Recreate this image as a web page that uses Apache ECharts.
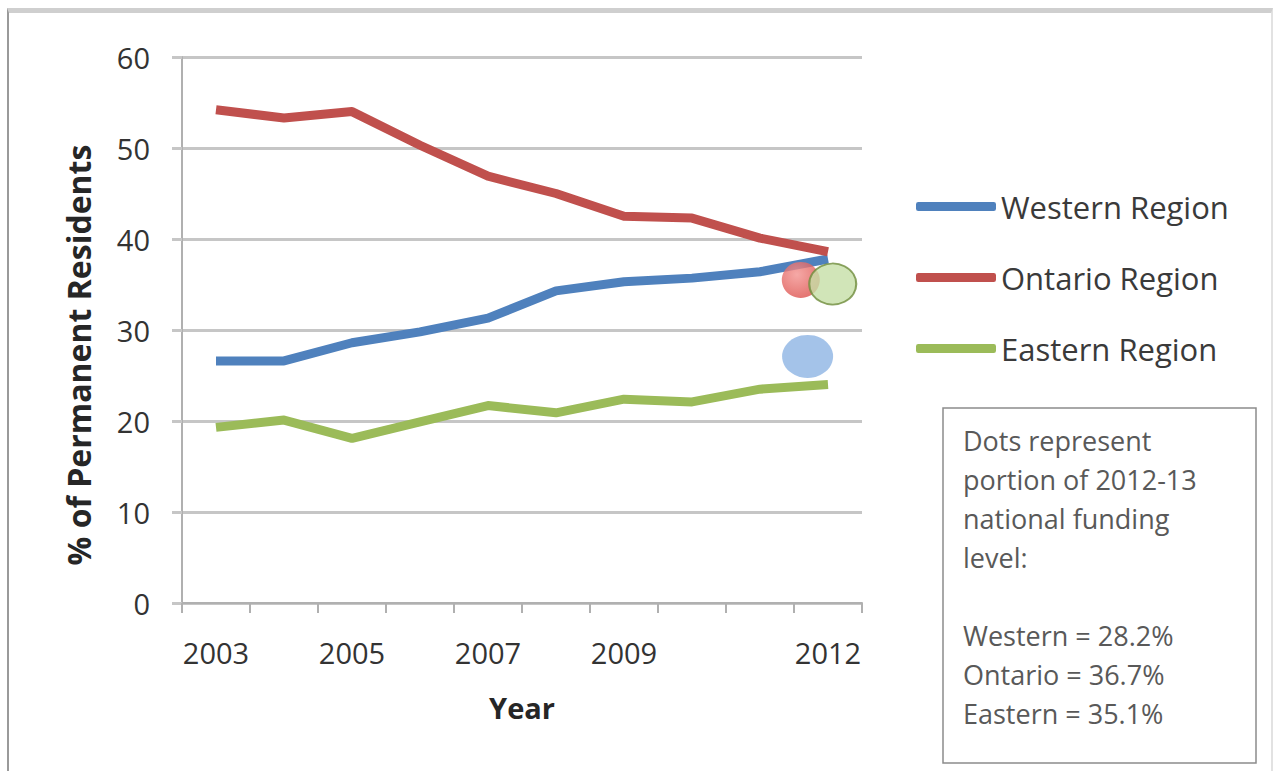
<!DOCTYPE html>
<html lang="en">
  <head>
    <meta charset="UTF-8" />
    <title>Permanent Residents by Region</title>
    <script src="https://cdn.jsdelivr.net/npm/echarts@6.0.0/dist/echarts.min.js"></script>
    <style>
      html,
      body {
        margin: 0;
        padding: 0;
        background: #fff;
      }
      .frame {
        position: absolute;
        left: 7px;
        top: 8px;
        width: 1262px;
        height: 760px;
        border-top: 5px solid #cfcfcf;
        border-left: 2px solid #9a9a9a;
        border-right: 2px solid #e2e2e2;
        border-bottom: 1px solid #e6e6e6;
      }
      #chart {
        position: absolute;
        left: 0;
        top: 0;
        width: 1276px;
        height: 771px;
      }
    </style>
  </head>
  <body>
    <div class="frame"></div>
    <div id="chart"></div>
    <script type="text/javascript">
      // 数据
      const years = ["2003", "2004", "2005", "2006", "2007", "2008", "2009", "2010", "2011", "2012"];
      const shownYears = ["2003", "2005", "2007", "2009", "2012"];
      const western = [26.6, 26.6, 28.6, 29.8, 31.3, 34.3, 35.3, 35.7, 36.4, 37.8];
      const ontario = [54.2, 53.3, 54.0, 50.3, 46.9, 45.0, 42.5, 42.3, 40.1, 38.6];
      const eastern = [19.3, 20.1, 18.1, 19.9, 21.7, 20.9, 22.4, 22.1, 23.5, 24.0];
      // 2012-13 funding dots: [x position on year scale, value]
      const westernDot = [8.7, 27.1];
      const ontarioDot = [8.6, 35.5];
      const easternDot = [9.07, 35.05];
      const yTicks = [0, 10, 20, 30, 40, 50, 60];

      const noteText = [
        "Dots represent",
        "portion of 2012-13",
        "national funding",
        "level:",
        "",
        "Western = 28.2%",
        "Ontario = 36.7%",
        "Eastern = 35.1%",
      ];

      const font = "'Open Sans', 'Noto Sans', sans-serif";
      const gridColor = "#c6c6c6";

      const myChart = echarts.init(document.getElementById("chart"), null, {
        renderer: "svg",
      });

      const lineSeries = (name, data, color) => ({
        name: name,
        type: "line",
        data: data,
        symbol: "none",
        smooth: false,
        z: 2,
        lineStyle: { color: color, width: 9, cap: "butt", join: "round" },
        itemStyle: { color: color },
      });

      const options = {
        animation: false,
        textStyle: { fontFamily: font },
        grid: { left: 182, right: 414, top: 57, bottom: 168 },
        legend: {
          orient: "vertical",
          left: 911,
          top: 185,
          itemWidth: 80,
          itemHeight: 9,
          itemGap: 38,
          icon: "roundRect",
          selectedMode: false,
          data: ["Western Region", "Ontario Region", "Eastern Region"],
          textStyle: {
            fontFamily: font,
            fontSize: 31,
            lineHeight: 33,
            color: "#3a3a3a",
          },
        },
        xAxis: [
          {
            type: "category",
            data: years,
            boundaryGap: true,
            name: "Year",
            nameLocation: "middle",
            nameGap: 90,
            nameTextStyle: {
              fontFamily: font,
              fontSize: 29,
              fontWeight: "bold",
              color: "#262626",
            },
            axisLine: { lineStyle: { color: "#b0b0b0", width: 2 } },
            axisTick: {
              show: true,
              interval: 0,
              length: 10,
              lineStyle: { color: "#b0b0b0", width: 2 },
            },
            axisLabel: {
              interval: 0,
              margin: 35,
              fontFamily: font,
              fontSize: 29,
              color: "#333",
              formatter: (v) => (shownYears.includes(v) ? v : ""),
            },
            splitLine: { show: false },
          },
          {
            type: "value",
            min: -0.5,
            max: 9.5,
            show: false,
          },
        ],
        yAxis: {
          type: "value",
          min: 0,
          max: 60,
          interval: 10,
          name: "% of Permanent Residents",
          nameLocation: "middle",
          nameGap: 88,
          nameTextStyle: {
            fontFamily: font,
            fontSize: 32,
            fontWeight: "bold",
            color: "#262626",
            padding: [0, 50, 0, 0],
          },
          axisLine: {
            show: true,
            onZero: false,
            lineStyle: { color: "#b0b0b0", width: 2 },
          },
          axisTick: {
            show: true,
            length: 10,
            lineStyle: { color: gridColor, width: 3 },
          },
          axisLabel: {
            margin: 32,
            fontFamily: font,
            fontSize: 29,
            color: "#333",
            formatter: (v) => (yTicks.includes(v) ? String(v) : ""),
          },
          splitLine: { show: true, lineStyle: { color: gridColor, width: 3 } },
        },
        series: [
          lineSeries("Western Region", western, "#4f81bd"),
          lineSeries("Ontario Region", ontario, "#c0504d"),
          lineSeries("Eastern Region", eastern, "#9bbb59"),
          {
            type: "scatter",
            xAxisIndex: 1,
            yAxisIndex: 0,
            z: 5,
            data: [
              {
                value: westernDot,
                symbolSize: [51, 43],
                itemStyle: { color: "#8db4e3" },
              },
              {
                value: ontarioDot,
                symbolSize: [38, 36],
                itemStyle: {
                  color: {
                    type: "radial",
                    x: 0.4,
                    y: 0.35,
                    r: 0.7,
                    colorStops: [
                      { offset: 0, color: "#f39390" },
                      { offset: 1, color: "#dc4f4b" },
                    ],
                  },
                },
              },
              {
                value: easternDot,
                symbolSize: [47, 41],
                itemStyle: {
                  color: "#c6dfa6",
                  borderColor: "#6f8c3c",
                  borderWidth: 2,
                },
              },
            ],
          },
        ],
        graphic: [
          {
            type: "rect",
            shape: { x: 943, y: 408, width: 313, height: 355 },
            style: { fill: "#fff", stroke: "#8c8c8c", lineWidth: 1.5 },
            z: 10,
          },
          {
            type: "text",
            left: 963,
            top: 421,
            z: 11,
            style: {
              text: noteText.join("\n"),
              fontFamily: font,
              fontSize: 27,
              lineHeight: 39,
              fill: "#595959",
            },
          },
        ],
      };

      if (options && typeof options === "object") {
        myChart.setOption(options);
      }
    </script>
  </body>
</html>
